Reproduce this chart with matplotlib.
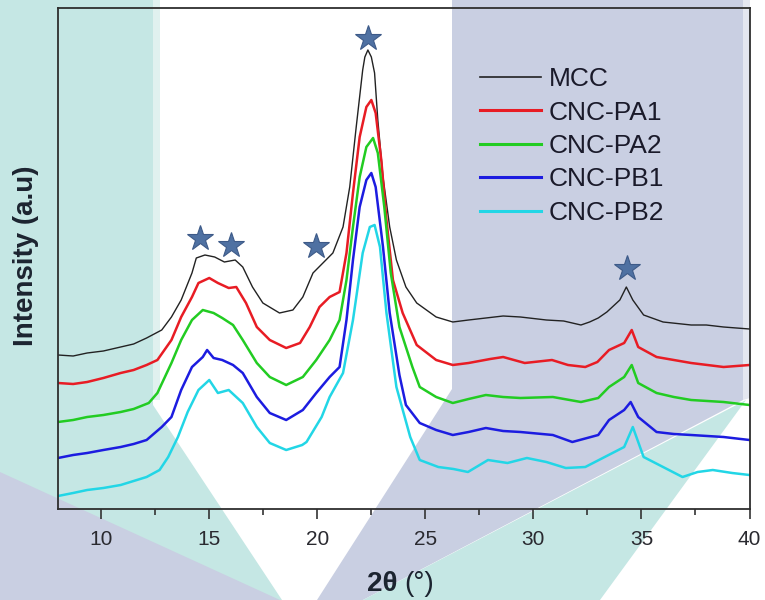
import matplotlib
matplotlib.use("Agg")
import matplotlib.pyplot as plt
from matplotlib.patches import Polygon
from matplotlib.lines import Line2D

plt.rcParams['font.family'] = ['Liberation Sans', 'DejaVu Sans']

# ---------------- data ----------------
mcc_x = [8, 8.7, 9.35, 10.1, 10.9, 11.5, 12.1, 12.8, 13.25, 13.7, 14.2, 14.4, 14.8, 15.25, 15.7,
         16.2, 16.55, 17.0, 17.48, 18.25, 18.87, 19.33, 19.8, 20.26, 20.72, 21.19, 21.5, 21.8,
         22.1, 22.2, 22.34, 22.5, 22.65, 22.8, 23.04, 23.35, 23.66, 24.1, 24.6, 25.5, 26.27,
         27.0, 27.8, 28.6, 29.4, 30.6, 31.4, 32.2, 32.6, 33.0, 33.4, 34.0, 34.3, 34.6, 35.1,
         36.0, 37.3, 38.0, 38.8, 39.4, 40]
mcc_y = [154, 153, 156, 158, 162, 165, 171, 179, 192, 209, 236, 251, 254, 252, 247,
         249, 242, 222, 206, 196, 199, 212, 236, 246, 256, 282, 322, 382,
         439, 452, 459, 452, 436, 389, 332, 282, 249, 222, 206, 192, 187,
         189, 191, 193, 192, 189, 188, 184, 187, 191, 197, 209, 222, 209, 194,
         187, 184, 184, 182, 181, 180]

pa1_x = [8, 8.7, 9.35, 10.1, 10.9, 11.5, 12.1, 12.6, 13.25, 13.7, 14.2, 14.5, 15.0, 15.4, 15.9,
         16.25, 16.7, 17.2, 17.8, 18.56, 19.2, 19.65, 20.1, 20.57, 21.03, 21.35, 21.65, 21.96,
         22.27, 22.5, 22.7, 22.96, 23.2, 23.5, 23.95, 24.6, 25.5, 26.27, 27.0, 28.0, 28.6,
         29.6, 30.86, 31.6, 32.4, 32.96, 33.5, 34.2, 34.55, 34.85, 35.7, 36.5, 37.3, 38.8, 40]
pa1_y = [126, 125, 127, 131, 136, 139, 144, 149, 169, 192, 212, 226, 231, 226, 221,
         222, 206, 182, 169, 161, 166, 182, 202, 212, 217, 256, 316, 372,
         402, 409, 396, 349, 289, 229, 196, 164, 149, 144, 146, 150, 152,
         146, 149, 144, 142, 147, 159, 166, 179, 162, 152, 149, 146, 142, 144]

pa2_x = [8, 8.7, 9.35, 10.1, 10.9, 11.5, 12.2, 12.6, 13.25, 13.7, 14.2, 14.7, 15.2, 15.6, 16.1,
         16.55, 17.2, 17.8, 18.56, 19.33, 19.95, 20.57, 21.03, 21.35, 21.65, 21.96, 22.27,
         22.58, 22.8, 23.1, 23.4, 23.8, 24.4, 24.74, 25.5, 26.27, 27.0, 27.8, 28.6, 29.4,
         30.9, 32.2, 33.0, 33.5, 34.2, 34.55, 34.85, 35.7, 36.5, 37.3, 38.8, 40]
pa2_y = [87, 89, 92, 94, 97, 100, 106, 116, 146, 169, 189, 199, 196, 191, 184,
         169, 146, 132, 124, 132, 149, 169, 189, 229, 282, 332, 362,
         371, 356, 302, 236, 182, 142, 122, 112, 106, 110, 114, 112, 111,
         112, 107, 111, 122, 132, 144, 126, 116, 112, 109, 107, 104]

pb1_x = [8, 8.7, 9.35, 10.1, 10.9, 11.5, 12.1, 12.8, 13.25, 13.7, 14.2, 14.7, 14.9, 15.2, 15.6,
         16.1, 16.55, 17.2, 17.8, 18.56, 19.33, 19.95, 20.57, 21.03, 21.35, 21.65, 21.96, 22.27,
         22.5, 22.7, 23.04, 23.35, 23.8, 24.1, 24.74, 25.5, 26.27, 27.0, 27.8, 28.6, 29.4,
         30.9, 31.8, 33.0, 33.5, 34.2, 34.5, 34.85, 35.7, 36.5, 37.3, 38.8, 40]
pb1_y = [51, 54, 56, 59, 62, 65, 69, 82, 92, 119, 142, 152, 159, 151, 149,
         144, 136, 112, 96, 89, 99, 116, 132, 142, 189, 249, 302, 329,
         336, 322, 262, 196, 134, 104, 86, 79, 74, 77, 81, 78, 77,
         74, 67, 74, 89, 99, 107, 92, 77, 75, 74, 72, 69]

pb2_x = [8, 8.7, 9.35, 10.1, 10.9, 11.5, 12.1, 12.7, 13.1, 13.55, 14.0, 14.5, 15.0, 15.4, 15.9,
         16.55, 17.2, 17.8, 18.56, 19.3, 19.5, 20.2, 20.57, 21.19, 21.65, 22.1, 22.43, 22.65,
         22.9, 23.2, 23.66, 24.3, 24.74, 25.6, 26.3, 26.97, 27.9, 28.8, 29.7, 30.6, 31.5,
         32.4, 33.3, 34.2, 34.6, 35.1, 36.0, 36.9, 37.6, 38.3, 39.2, 40]
pb2_y = [13, 16, 19, 21, 24, 28, 32, 39, 52, 72, 97, 119, 129, 116, 119,
         106, 82, 66, 59, 64, 67, 92, 112, 136, 189, 256, 282, 284,
         262, 196, 122, 72, 49, 42, 40, 37, 49, 46, 51, 47, 41,
         42, 52, 62, 82, 52, 42, 32, 37, 39, 36, 34]

series_x = [mcc_x, pa1_x, pa2_x, pb1_x, pb2_x]
series_y = [mcc_y, pa1_y, pa2_y, pb1_y, pb2_y]
labels = ['MCC', 'CNC-PA1', 'CNC-PA2', 'CNC-PB1', 'CNC-PB2']
colors = ['#222222', '#e81c24', '#22cc22', '#1c1ce0', '#22d6e6']
widths = [1.0, 1.8, 1.8, 1.8, 1.8]

star_x = [14.59, 16.02, 19.92, 22.33, 34.34]
star_y = [271, 264, 263, 471, 241]

x_major = [10, 15, 20, 25, 30, 35, 40]
x_minor = [12.5, 17.5, 22.5, 27.5, 32.5, 37.5]

# ---------------- figure ----------------
W, H = 765, 600
fig = plt.figure(figsize=(W / 100, H / 100), dpi=100)
fig.patch.set_facecolor('white')

teal = '#c5e7e4'
lav = '#c9cfe2'


def fp(pts):
    return [(x / W, 1 - y / H) for x, y in pts]


bg = [
    ([(0, 0), (153, 0), (153, 405), (282, 600), (0, 600)], teal),
    ([(153, 0), (160, 0), (160, 400), (153, 400)], '#e0f1ef'),
    ([(0, 472), (280, 600), (0, 600)], lav),
    ([(452, 0), (743, 0), (743, 400), (363, 600), (317, 600), (452, 389)], lav),
    ([(743, 0), (750, 0), (750, 398), (743, 400)], '#e4e7f0'),
    ([(363, 600), (746, 400), (600, 600)], teal),
]
for pts, c in bg:
    fig.patches.append(Polygon(fp(pts), closed=True, transform=fig.transFigure,
                               facecolor=c, edgecolor='none', zorder=-10))

ax = fig.add_axes([58 / W, 1 - 509 / H, (749.5 - 58) / W, (509 - 8) / H])
ax.set_facecolor('none')

for xs, ys, c, lw in zip(series_x, series_y, colors, widths):
    ax.plot(xs, ys, color=c, lw=lw, solid_joinstyle='round')

ax.plot(star_x, star_y, linestyle='none', marker='*', markersize=19,
        markerfacecolor='#4f71a2', markeredgecolor='#3d5a88', markeredgewidth=0.8)

ax.set_xlim(8, 40)
ax.set_ylim(0, 501)
ax.set_xticks(x_major)
ax.set_xticks(x_minor, minor=True)
ax.set_yticks([])
ax.tick_params(axis='x', which='major', direction='out', length=7, width=1.2,
               labelsize=15, pad=8, color='#333333', labelcolor='#2a2a30')
ax.tick_params(axis='x', which='minor', direction='out', length=4.5, width=1.2,
               color='#333333')
for s in ax.spines.values():
    s.set_color('#2e2e2e')
    s.set_linewidth(1.3)

ax.set_ylabel('Intensity (a.u)', fontsize=20, fontweight='bold', color='#1c2430')
ax.yaxis.set_label_coords(-0.027, 0.505)

fig.text(397 / W, 1 - 584 / H, '2θ', fontsize=20, fontweight='bold',
         ha='right', va='center', color='#1c2430')
fig.text(404 / W, 1 - 584 / H, '(°)', fontsize=20, ha='left', va='center',
         color='#1c2430')

handles = [Line2D([], [], color=c, lw=(1.2 if i == 0 else 2.2))
           for i, c in enumerate(colors)]
leg = ax.legend(handles, labels, loc='upper left',
                bbox_to_anchor=(480 / W, 1 - 67 / H), bbox_transform=fig.transFigure,
                frameon=False, fontsize=19, handlelength=2.3, handletextpad=0.3,
                labelspacing=0.36, borderpad=0, borderaxespad=0)
for t in leg.get_texts():
    t.set_color('#1a1a2a')

fig.savefig('out.png', dpi=100)
